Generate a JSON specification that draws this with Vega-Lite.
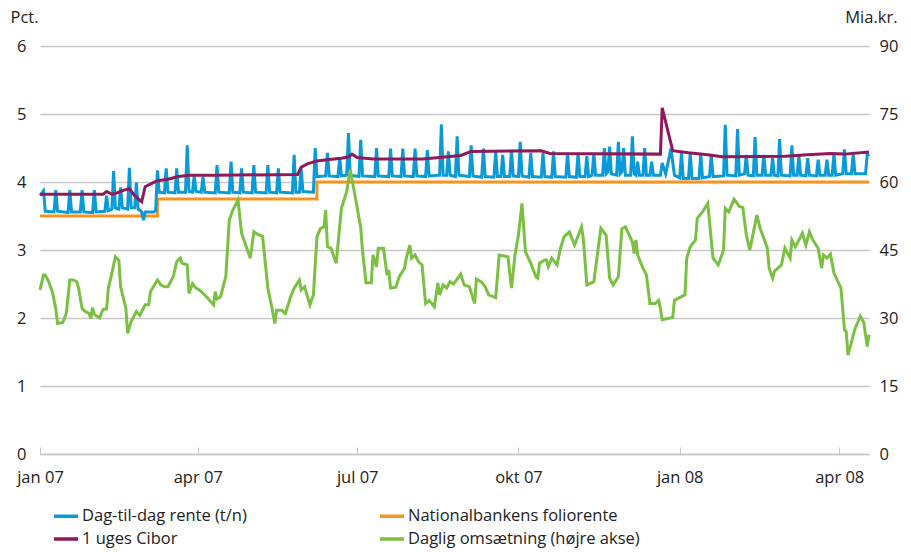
{
"$schema":"https://vega.github.io/schema/vega-lite/v6.json",
"width":829,"height":408,
"autosize":{"type":"none"},
"padding":{"left":40,"top":46,"right":42,"bottom":98},
"background":"white",
"config":{"view":{"stroke":null},"font":"Open Sans",
"axis":{"labelFont":"Open Sans","labelFontSize":16.5,"labelColor":"#222222","titleFont":"Open Sans","titleFontSize":16.5,"titleFontWeight":"normal","titleColor":"#222222"},
"legend":{"labelFont":"Open Sans","labelFontSize":16.5,"labelColor":"#222222"}},
"datasets":{
"orange":[{"d":"2007-01-01","v":3.5},{"d":"2007-03-09","v":3.75},{"d":"2007-06-08","v":4.0},{"d":"2008-04-18","v":4.0}],
"purple":[{"d":"2007-01-01","v":3.82},{"d":"2007-02-06","v":3.82},{"d":"2007-02-08","v":3.86},{"d":"2007-02-11","v":3.82},{"d":"2007-02-14","v":3.84},{"d":"2007-02-18","v":3.88},{"d":"2007-02-21","v":3.9},{"d":"2007-02-24","v":3.8},{"d":"2007-02-28","v":3.71},{"d":"2007-03-02","v":3.93},{"d":"2007-03-05","v":3.97},{"d":"2007-03-09","v":4.02},{"d":"2007-03-15","v":4.04},{"d":"2007-03-21","v":4.08},{"d":"2007-03-27","v":4.1},{"d":"2007-04-11","v":4.1},{"d":"2007-05-28","v":4.11},{"d":"2007-05-30","v":4.22},{"d":"2007-06-03","v":4.27},{"d":"2007-06-08","v":4.31},{"d":"2007-06-15","v":4.33},{"d":"2007-06-22","v":4.35},{"d":"2007-06-26","v":4.37},{"d":"2007-06-28","v":4.41},{"d":"2007-07-01","v":4.36},{"d":"2007-07-10","v":4.34},{"d":"2007-08-07","v":4.34},{"d":"2007-08-17","v":4.36},{"d":"2007-08-29","v":4.39},{"d":"2007-09-04","v":4.45},{"d":"2007-10-14","v":4.46},{"d":"2007-10-19","v":4.42},{"d":"2007-12-21","v":4.41},{"d":"2007-12-22","v":5.09},{"d":"2007-12-28","v":4.46},{"d":"2008-01-06","v":4.43},{"d":"2008-01-17","v":4.4},{"d":"2008-01-25","v":4.37},{"d":"2008-03-01","v":4.38},{"d":"2008-03-14","v":4.4},{"d":"2008-03-27","v":4.42},{"d":"2008-04-04","v":4.41},{"d":"2008-04-18","v":4.44}],
"blue":[{"d":"2007-01-01","v":3.8},{"d":"2007-01-03","v":3.87},{"d":"2007-01-04","v":3.57},{"d":"2007-01-09","v":3.56},{"d":"2007-01-10","v":3.88},{"d":"2007-01-11","v":3.57},{"d":"2007-01-17","v":3.55},{"d":"2007-01-18","v":3.88},{"d":"2007-01-19","v":3.56},{"d":"2007-01-24","v":3.56},{"d":"2007-01-25","v":3.88},{"d":"2007-01-26","v":3.56},{"d":"2007-01-31","v":3.55},{"d":"2007-02-01","v":3.88},{"d":"2007-02-02","v":3.56},{"d":"2007-02-07","v":3.57},{"d":"2007-02-08","v":3.8},{"d":"2007-02-09","v":3.58},{"d":"2007-02-11","v":3.6},{"d":"2007-02-12","v":4.16},{"d":"2007-02-13","v":3.62},{"d":"2007-02-15","v":3.6},{"d":"2007-02-16","v":3.92},{"d":"2007-02-17","v":3.62},{"d":"2007-02-20","v":3.6},{"d":"2007-02-21","v":4.21},{"d":"2007-02-22","v":3.62},{"d":"2007-02-24","v":3.62},{"d":"2007-02-25","v":3.99},{"d":"2007-02-26","v":3.6},{"d":"2007-02-28","v":3.56},{"d":"2007-03-01","v":3.44},{"d":"2007-03-02","v":3.56},{"d":"2007-03-07","v":3.56},{"d":"2007-03-08","v":3.58},{"d":"2007-03-09","v":4.17},{"d":"2007-03-10","v":3.85},{"d":"2007-03-13","v":3.84},{"d":"2007-03-14","v":4.2},{"d":"2007-03-15","v":3.85},{"d":"2007-03-19","v":3.84},{"d":"2007-03-20","v":4.2},{"d":"2007-03-21","v":3.85},{"d":"2007-03-25","v":3.85},{"d":"2007-03-26","v":4.54},{"d":"2007-03-27","v":3.86},{"d":"2007-03-29","v":3.85},{"d":"2007-03-30","v":4.1},{"d":"2007-03-31","v":3.86},{"d":"2007-04-03","v":3.85},{"d":"2007-04-04","v":4.08},{"d":"2007-04-05","v":3.85},{"d":"2007-04-11","v":3.84},{"d":"2007-04-12","v":4.25},{"d":"2007-04-13","v":3.85},{"d":"2007-04-19","v":3.84},{"d":"2007-04-20","v":4.3},{"d":"2007-04-21","v":3.85},{"d":"2007-04-25","v":3.84},{"d":"2007-04-26","v":4.2},{"d":"2007-04-27","v":3.85},{"d":"2007-05-02","v":3.84},{"d":"2007-05-03","v":4.25},{"d":"2007-05-04","v":3.85},{"d":"2007-05-10","v":3.84},{"d":"2007-05-11","v":4.25},{"d":"2007-05-12","v":3.85},{"d":"2007-05-16","v":3.84},{"d":"2007-05-17","v":4.2},{"d":"2007-05-18","v":3.85},{"d":"2007-05-25","v":3.84},{"d":"2007-05-26","v":4.4},{"d":"2007-05-27","v":3.85},{"d":"2007-05-29","v":3.85},{"d":"2007-05-30","v":4.2},{"d":"2007-05-31","v":3.86},{"d":"2007-06-06","v":3.85},{"d":"2007-06-07","v":4.5},{"d":"2007-06-08","v":4.08},{"d":"2007-06-13","v":4.09},{"d":"2007-06-14","v":4.43},{"d":"2007-06-15","v":4.09},{"d":"2007-06-20","v":4.08},{"d":"2007-06-21","v":4.35},{"d":"2007-06-22","v":4.09},{"d":"2007-06-25","v":4.1},{"d":"2007-06-26","v":4.72},{"d":"2007-06-27","v":4.1},{"d":"2007-07-02","v":4.08},{"d":"2007-07-03","v":4.62},{"d":"2007-07-04","v":4.09},{"d":"2007-07-11","v":4.08},{"d":"2007-07-12","v":4.5},{"d":"2007-07-13","v":4.09},{"d":"2007-07-19","v":4.08},{"d":"2007-07-20","v":4.49},{"d":"2007-07-21","v":4.09},{"d":"2007-07-26","v":4.08},{"d":"2007-07-27","v":4.49},{"d":"2007-07-28","v":4.09},{"d":"2007-08-02","v":4.08},{"d":"2007-08-03","v":4.49},{"d":"2007-08-04","v":4.09},{"d":"2007-08-09","v":4.08},{"d":"2007-08-10","v":4.47},{"d":"2007-08-11","v":4.09},{"d":"2007-08-17","v":4.1},{"d":"2007-08-18","v":4.85},{"d":"2007-08-19","v":4.1},{"d":"2007-08-21","v":4.1},{"d":"2007-08-22","v":4.45},{"d":"2007-08-23","v":4.1},{"d":"2007-08-26","v":4.08},{"d":"2007-08-27","v":4.67},{"d":"2007-08-28","v":4.1},{"d":"2007-09-03","v":4.08},{"d":"2007-09-04","v":4.54},{"d":"2007-09-05","v":4.09},{"d":"2007-09-10","v":4.07},{"d":"2007-09-11","v":4.49},{"d":"2007-09-12","v":4.08},{"d":"2007-09-17","v":4.07},{"d":"2007-09-18","v":4.45},{"d":"2007-09-19","v":4.08},{"d":"2007-09-21","v":4.08},{"d":"2007-09-22","v":4.4},{"d":"2007-09-23","v":4.08},{"d":"2007-09-26","v":4.08},{"d":"2007-09-27","v":4.47},{"d":"2007-09-28","v":4.09},{"d":"2007-10-01","v":4.08},{"d":"2007-10-02","v":4.59},{"d":"2007-10-03","v":4.09},{"d":"2007-10-07","v":4.07},{"d":"2007-10-08","v":4.43},{"d":"2007-10-09","v":4.08},{"d":"2007-10-14","v":4.07},{"d":"2007-10-15","v":4.43},{"d":"2007-10-16","v":4.08},{"d":"2007-10-20","v":4.07},{"d":"2007-10-21","v":4.45},{"d":"2007-10-22","v":4.08},{"d":"2007-10-28","v":4.07},{"d":"2007-10-29","v":4.43},{"d":"2007-10-30","v":4.08},{"d":"2007-11-03","v":4.07},{"d":"2007-11-04","v":4.43},{"d":"2007-11-05","v":4.08},{"d":"2007-11-08","v":4.08},{"d":"2007-11-09","v":4.38},{"d":"2007-11-10","v":4.08},{"d":"2007-11-12","v":4.1},{"d":"2007-11-13","v":4.43},{"d":"2007-11-14","v":4.1},{"d":"2007-11-18","v":4.1},{"d":"2007-11-19","v":4.5},{"d":"2007-11-20","v":4.12},{"d":"2007-11-21","v":4.15},{"d":"2007-11-22","v":4.52},{"d":"2007-11-23","v":4.12},{"d":"2007-11-26","v":4.1},{"d":"2007-11-27","v":4.59},{"d":"2007-11-28","v":4.12},{"d":"2007-11-29","v":4.15},{"d":"2007-11-30","v":4.5},{"d":"2007-12-01","v":4.1},{"d":"2007-12-04","v":4.1},{"d":"2007-12-05","v":4.67},{"d":"2007-12-06","v":4.12},{"d":"2007-12-07","v":4.1},{"d":"2007-12-08","v":4.3},{"d":"2007-12-09","v":4.1},{"d":"2007-12-11","v":4.1},{"d":"2007-12-12","v":4.5},{"d":"2007-12-13","v":4.1},{"d":"2007-12-15","v":4.1},{"d":"2007-12-16","v":4.3},{"d":"2007-12-17","v":4.1},{"d":"2007-12-21","v":4.1},{"d":"2007-12-22","v":4.28},{"d":"2007-12-24","v":4.12},{"d":"2007-12-27","v":4.49},{"d":"2007-12-29","v":4.1},{"d":"2008-01-01","v":4.06},{"d":"2008-01-02","v":4.43},{"d":"2008-01-03","v":4.05},{"d":"2008-01-06","v":4.05},{"d":"2008-01-07","v":4.43},{"d":"2008-01-08","v":4.05},{"d":"2008-01-12","v":4.05},{"d":"2008-01-13","v":4.41},{"d":"2008-01-14","v":4.06},{"d":"2008-01-18","v":4.08},{"d":"2008-01-19","v":4.41},{"d":"2008-01-20","v":4.08},{"d":"2008-01-26","v":4.09},{"d":"2008-01-27","v":4.84},{"d":"2008-01-28","v":4.1},{"d":"2008-02-02","v":4.09},{"d":"2008-02-03","v":4.78},{"d":"2008-02-04","v":4.1},{"d":"2008-02-07","v":4.12},{"d":"2008-02-08","v":4.4},{"d":"2008-02-09","v":4.1},{"d":"2008-02-12","v":4.09},{"d":"2008-02-13","v":4.66},{"d":"2008-02-14","v":4.1},{"d":"2008-02-17","v":4.1},{"d":"2008-02-18","v":4.4},{"d":"2008-02-19","v":4.1},{"d":"2008-02-22","v":4.1},{"d":"2008-02-23","v":4.35},{"d":"2008-02-24","v":4.1},{"d":"2008-02-26","v":4.09},{"d":"2008-02-27","v":4.63},{"d":"2008-02-28","v":4.1},{"d":"2008-03-04","v":4.09},{"d":"2008-03-05","v":4.54},{"d":"2008-03-06","v":4.1},{"d":"2008-03-08","v":4.1},{"d":"2008-03-09","v":4.38},{"d":"2008-03-10","v":4.1},{"d":"2008-03-13","v":4.09},{"d":"2008-03-14","v":4.35},{"d":"2008-03-15","v":4.1},{"d":"2008-03-19","v":4.09},{"d":"2008-03-20","v":4.33},{"d":"2008-03-21","v":4.1},{"d":"2008-03-24","v":4.1},{"d":"2008-03-25","v":4.33},{"d":"2008-03-26","v":4.1},{"d":"2008-03-28","v":4.1},{"d":"2008-03-29","v":4.41},{"d":"2008-03-30","v":4.1},{"d":"2008-04-03","v":4.12},{"d":"2008-04-04","v":4.48},{"d":"2008-04-05","v":4.12},{"d":"2008-04-08","v":4.12},{"d":"2008-04-09","v":4.43},{"d":"2008-04-10","v":4.12},{"d":"2008-04-15","v":4.12},{"d":"2008-04-16","v":4.12},{"d":"2008-04-17","v":4.41},{"d":"2008-04-18","v":4.38}],
"green":[{"d":"2007-01-01","v":36.2},{"d":"2007-01-03","v":39.5},{"d":"2007-01-04","v":39.5},{"d":"2007-01-06","v":38.0},{"d":"2007-01-08","v":35.8},{"d":"2007-01-10","v":32.1},{"d":"2007-01-11","v":28.8},{"d":"2007-01-14","v":29.0},{"d":"2007-01-16","v":31.0},{"d":"2007-01-18","v":38.4},{"d":"2007-01-20","v":38.4},{"d":"2007-01-22","v":38.0},{"d":"2007-01-23","v":36.6},{"d":"2007-01-25","v":32.1},{"d":"2007-01-27","v":31.4},{"d":"2007-01-29","v":31.0},{"d":"2007-01-30","v":29.9},{"d":"2007-01-31","v":32.3},{"d":"2007-02-01","v":30.8},{"d":"2007-02-04","v":30.0},{"d":"2007-02-06","v":31.9},{"d":"2007-02-08","v":32.0},{"d":"2007-02-09","v":36.6},{"d":"2007-02-11","v":39.9},{"d":"2007-02-13","v":43.5},{"d":"2007-02-15","v":42.7},{"d":"2007-02-16","v":36.9},{"d":"2007-02-19","v":32.1},{"d":"2007-02-20","v":26.6},{"d":"2007-02-22","v":29.2},{"d":"2007-02-25","v":31.4},{"d":"2007-02-27","v":30.6},{"d":"2007-03-02","v":32.9},{"d":"2007-03-04","v":32.9},{"d":"2007-03-05","v":35.8},{"d":"2007-03-09","v":38.4},{"d":"2007-03-11","v":37.3},{"d":"2007-03-13","v":36.9},{"d":"2007-03-15","v":36.9},{"d":"2007-03-18","v":39.1},{"d":"2007-03-20","v":42.4},{"d":"2007-03-22","v":43.2},{"d":"2007-03-23","v":42.1},{"d":"2007-03-26","v":41.7},{"d":"2007-03-27","v":35.4},{"d":"2007-03-29","v":37.6},{"d":"2007-03-31","v":36.6},{"d":"2007-04-02","v":36.2},{"d":"2007-04-06","v":34.7},{"d":"2007-04-10","v":32.9},{"d":"2007-04-11","v":35.8},{"d":"2007-04-12","v":34.2},{"d":"2007-04-14","v":34.7},{"d":"2007-04-17","v":39.1},{"d":"2007-04-19","v":51.6},{"d":"2007-04-21","v":53.8},{"d":"2007-04-24","v":56.0},{"d":"2007-04-26","v":48.7},{"d":"2007-04-28","v":46.5},{"d":"2007-05-01","v":43.2},{"d":"2007-05-03","v":49.0},{"d":"2007-05-05","v":48.5},{"d":"2007-05-08","v":48.0},{"d":"2007-05-11","v":36.6},{"d":"2007-05-13","v":32.9},{"d":"2007-05-15","v":28.8},{"d":"2007-05-16","v":31.7},{"d":"2007-05-19","v":31.7},{"d":"2007-05-21","v":31.0},{"d":"2007-05-24","v":34.7},{"d":"2007-05-26","v":36.6},{"d":"2007-05-29","v":38.4},{"d":"2007-05-30","v":36.2},{"d":"2007-06-01","v":36.9},{"d":"2007-06-04","v":32.9},{"d":"2007-06-06","v":35.1},{"d":"2007-06-08","v":47.9},{"d":"2007-06-10","v":49.7},{"d":"2007-06-12","v":50.1},{"d":"2007-06-13","v":53.8},{"d":"2007-06-14","v":45.7},{"d":"2007-06-16","v":45.4},{"d":"2007-06-19","v":42.1},{"d":"2007-06-22","v":54.2},{"d":"2007-06-25","v":57.9},{"d":"2007-06-27","v":62.7},{"d":"2007-06-30","v":56.4},{"d":"2007-07-03","v":49.9},{"d":"2007-07-04","v":45.0},{"d":"2007-07-06","v":37.8},{"d":"2007-07-09","v":37.8},{"d":"2007-07-10","v":43.9},{"d":"2007-07-12","v":41.3},{"d":"2007-07-13","v":45.4},{"d":"2007-07-16","v":45.4},{"d":"2007-07-18","v":39.5},{"d":"2007-07-19","v":40.6},{"d":"2007-07-20","v":36.6},{"d":"2007-07-23","v":36.8},{"d":"2007-07-25","v":39.1},{"d":"2007-07-28","v":41.0},{"d":"2007-07-29","v":43.2},{"d":"2007-07-31","v":46.1},{"d":"2007-08-01","v":43.2},{"d":"2007-08-03","v":43.9},{"d":"2007-08-05","v":42.4},{"d":"2007-08-07","v":41.7},{"d":"2007-08-09","v":33.2},{"d":"2007-08-11","v":33.9},{"d":"2007-08-14","v":32.5},{"d":"2007-08-16","v":37.7},{"d":"2007-08-17","v":35.1},{"d":"2007-08-19","v":37.3},{"d":"2007-08-21","v":36.6},{"d":"2007-08-23","v":38.0},{"d":"2007-08-25","v":37.5},{"d":"2007-08-29","v":39.7},{"d":"2007-08-31","v":37.3},{"d":"2007-09-03","v":36.9},{"d":"2007-09-06","v":33.2},{"d":"2007-09-07","v":38.6},{"d":"2007-09-10","v":37.9},{"d":"2007-09-12","v":36.9},{"d":"2007-09-14","v":35.1},{"d":"2007-09-18","v":34.5},{"d":"2007-09-20","v":43.9},{"d":"2007-09-25","v":43.5},{"d":"2007-09-27","v":36.6},{"d":"2007-09-29","v":43.9},{"d":"2007-10-01","v":48.3},{"d":"2007-10-03","v":55.3},{"d":"2007-10-05","v":44.6},{"d":"2007-10-08","v":42.1},{"d":"2007-10-11","v":39.1},{"d":"2007-10-12","v":38.8},{"d":"2007-10-13","v":42.1},{"d":"2007-10-16","v":42.8},{"d":"2007-10-17","v":42.8},{"d":"2007-10-18","v":41.3},{"d":"2007-10-20","v":43.2},{"d":"2007-10-23","v":41.7},{"d":"2007-10-25","v":45.4},{"d":"2007-10-27","v":47.9},{"d":"2007-10-30","v":49.0},{"d":"2007-11-02","v":46.1},{"d":"2007-11-06","v":50.1},{"d":"2007-11-07","v":47.5},{"d":"2007-11-09","v":37.3},{"d":"2007-11-13","v":38.0},{"d":"2007-11-17","v":49.8},{"d":"2007-11-20","v":48.3},{"d":"2007-11-22","v":38.8},{"d":"2007-11-24","v":37.3},{"d":"2007-11-27","v":39.1},{"d":"2007-11-29","v":49.7},{"d":"2007-12-01","v":50.1},{"d":"2007-12-05","v":46.8},{"d":"2007-12-06","v":44.2},{"d":"2007-12-07","v":47.2},{"d":"2007-12-08","v":43.9},{"d":"2007-12-11","v":41.0},{"d":"2007-12-13","v":39.5},{"d":"2007-12-15","v":33.2},{"d":"2007-12-18","v":33.2},{"d":"2007-12-20","v":33.9},{"d":"2007-12-21","v":32.1},{"d":"2007-12-22","v":29.6},{"d":"2007-12-28","v":30.1},{"d":"2007-12-29","v":33.9},{"d":"2008-01-04","v":35.1},{"d":"2008-01-05","v":43.2},{"d":"2008-01-07","v":45.7},{"d":"2008-01-10","v":47.2},{"d":"2008-01-11","v":52.0},{"d":"2008-01-14","v":53.4},{"d":"2008-01-17","v":55.3},{"d":"2008-01-20","v":43.2},{"d":"2008-01-23","v":41.7},{"d":"2008-01-26","v":45.0},{"d":"2008-01-27","v":54.2},{"d":"2008-01-29","v":53.4},{"d":"2008-02-01","v":56.2},{"d":"2008-02-04","v":54.6},{"d":"2008-02-06","v":54.4},{"d":"2008-02-08","v":48.3},{"d":"2008-02-10","v":45.0},{"d":"2008-02-14","v":52.7},{"d":"2008-02-16","v":49.7},{"d":"2008-02-20","v":45.4},{"d":"2008-02-21","v":41.0},{"d":"2008-02-23","v":38.8},{"d":"2008-02-24","v":40.3},{"d":"2008-02-28","v":41.7},{"d":"2008-03-01","v":45.4},{"d":"2008-03-04","v":43.2},{"d":"2008-03-05","v":47.2},{"d":"2008-03-07","v":45.7},{"d":"2008-03-11","v":48.7},{"d":"2008-03-13","v":46.1},{"d":"2008-03-15","v":49.0},{"d":"2008-03-17","v":47.2},{"d":"2008-03-20","v":45.4},{"d":"2008-03-22","v":41.0},{"d":"2008-03-23","v":43.9},{"d":"2008-03-25","v":43.2},{"d":"2008-03-27","v":44.1},{"d":"2008-03-29","v":39.9},{"d":"2008-04-02","v":36.6},{"d":"2008-04-04","v":27.4},{"d":"2008-04-05","v":27.0},{"d":"2008-04-06","v":21.8},{"d":"2008-04-10","v":27.6},{"d":"2008-04-13","v":30.4},{"d":"2008-04-15","v":29.0},{"d":"2008-04-17","v":23.7},{"d":"2008-04-18","v":26.3}]
},
"layer":[
{"encoding":{
"x":{"field":"d","type":"temporal","scale":{"domain":[{"year":2007,"month":1,"date":1},{"year":2008,"month":4,"date":18}]},
"axis":{"title":null,"values":[{"year":2007,"month":1,"date":1},{"year":2007,"month":4,"date":1},{"year":2007,"month":7,"date":1},{"year":2007,"month":10,"date":1},{"year":2008,"month":1,"date":1},{"year":2008,"month":4,"date":1}],
"labelExpr":"['jan','feb','mar','apr','maj','jun','jul','aug','sep','okt','nov','dec'][month(datum.value)] + ' ' + timeFormat(datum.value, '%y')",
"grid":false,"domain":true,"domainColor":"#c8c8c8","domainWidth":1.5,"ticks":true,"tickColor":"#c8c8c8","tickWidth":1,"tickSize":-7,"labelPadding":22,"labelFlush":false}},
"y":{"field":"v","type":"quantitative","scale":{"domain":[0,6]},
"axis":{"orient":"left","values":[0,1,2,3,4,5,6],"grid":true,"gridColor":"#c8c8c8","gridWidth":1.5,"domain":false,"ticks":false,"labelPadding":14,"title":"Pct.","titleAngle":0,"titleAlign":"left","titleBaseline":"alphabetic","titleX":-30,"titleY":-24}}},
"layer":[
{"data":{"name":"orange"},"mark":{"type":"line","strokeWidth":3,"interpolate":"step-after"},"encoding":{"color":{"datum":"Nationalbankens foliorente"}}},
{"data":{"name":"blue"},"mark":{"type":"line","strokeWidth":3},"encoding":{"color":{"datum":"Dag-til-dag rente (t/n)",
"scale":{"domain":["Dag-til-dag rente (t/n)","Nationalbankens foliorente","1 uges Cibor","Daglig omsætning (højre akse)"],"range":["#0a9ad7","#f7941d","#8e1a5a","#7ac143"]},
"legend":{"title":null,"orient":"none","direction":"horizontal","legendX":12,"legendY":456,"columns":2,"columnPadding":126,"rowPadding":0,"symbolType":"stroke","symbolSize":576,"symbolStrokeWidth":3.5,"labelOffset":2,"labelLimit":400}}}},
{"data":{"name":"purple"},"mark":{"type":"line","strokeWidth":3},"encoding":{"color":{"datum":"1 uges Cibor"}}}
]},
{"data":{"name":"green"},"mark":{"type":"line","strokeWidth":3},
"encoding":{
"x":{"field":"d","type":"temporal"},
"y":{"field":"v","type":"quantitative","scale":{"domain":[0,90]},
"axis":{"orient":"right","values":[0,15,30,45,60,75,90],"grid":false,"domain":false,"ticks":false,"labelPadding":10,"title":"Mia.kr.","titleAngle":0,"titleAlign":"right","titleBaseline":"alphabetic","titleX":28,"titleY":-24}},
"color":{"datum":"Daglig omsætning (højre akse)"}}}
],
"resolve":{"scale":{"y":"independent"}}
}
